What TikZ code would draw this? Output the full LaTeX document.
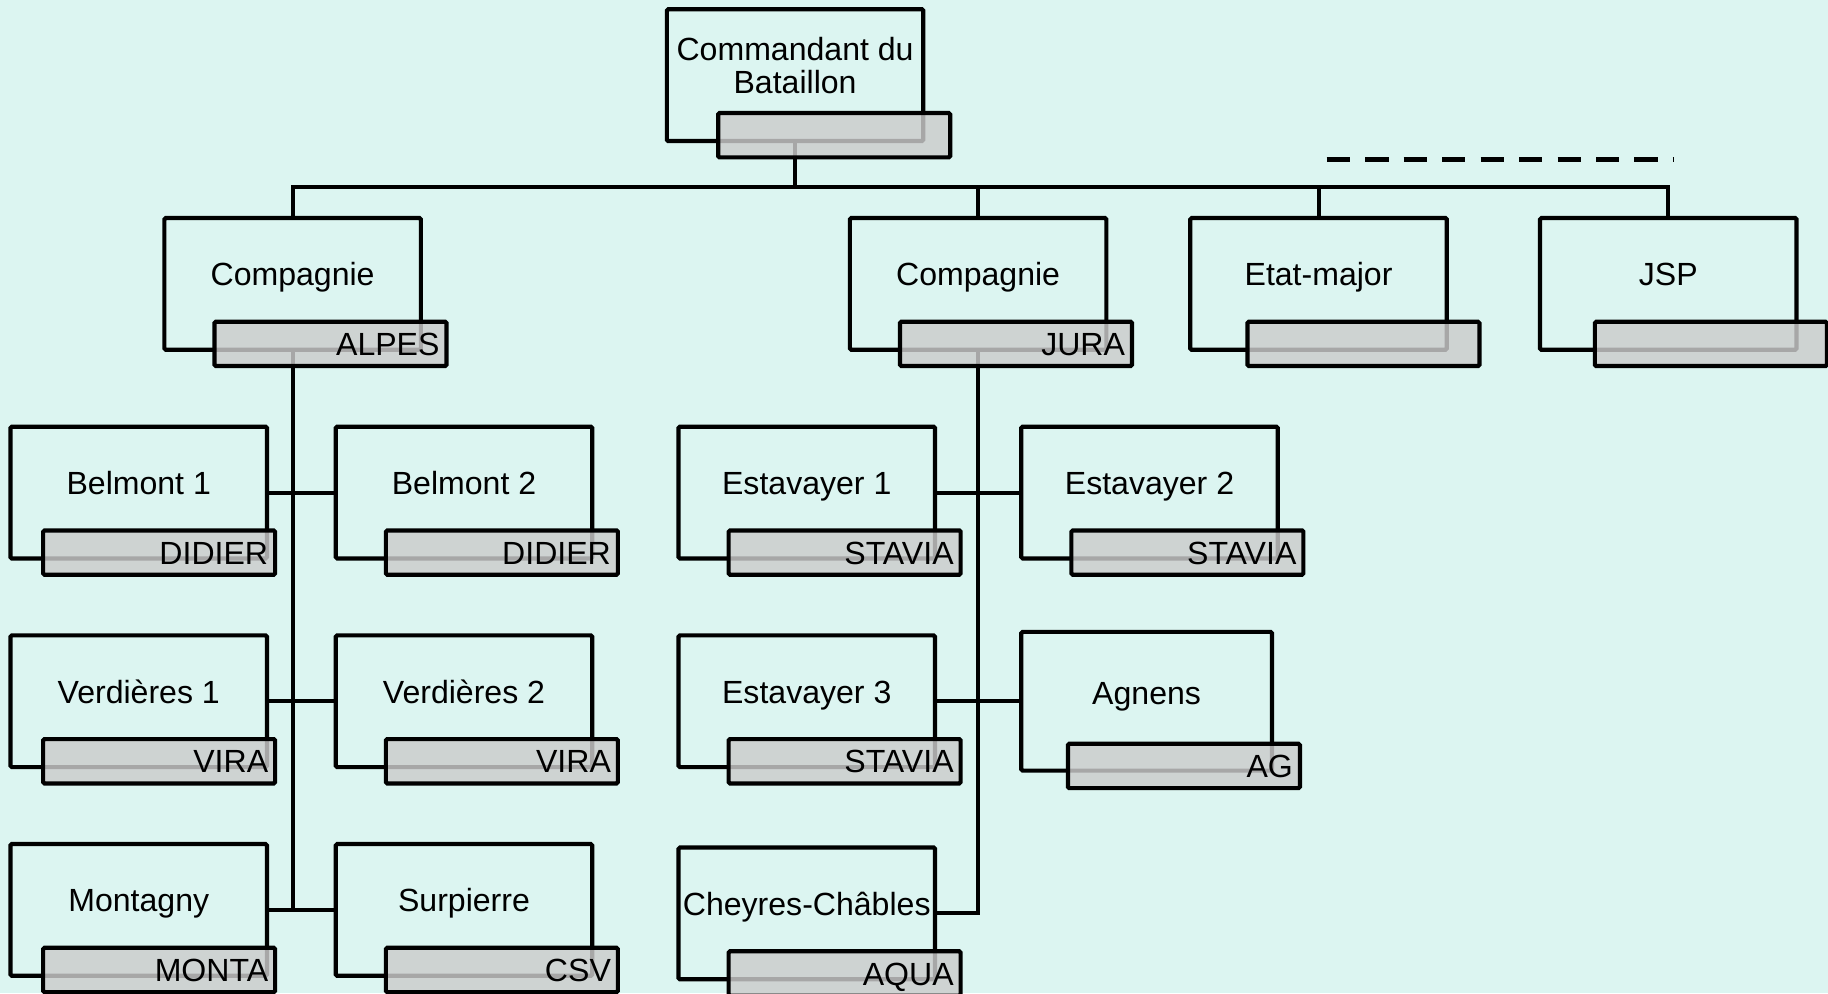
\documentclass[tikz,border=0pt]{standalone}
\usepackage{fontspec}
\setmainfont{Liberation Sans}
\usetikzlibrary{positioning}
\definecolor{mint}{HTML}{DCF5F1}
\definecolor{tagfill}{HTML}{CCCCCC}
\tikzset{
  unitbox/.style={draw, line width=1.8pt, rounded corners=0.6pt, minimum width=110pt, minimum height=56.5pt, inner sep=0pt, outer sep=0pt, anchor=north west},
  unittext/.style={font=\fontsize{13.75}{14}\selectfont, align=center, inner sep=0pt},
  tagbox/.style={draw, line width=1.8pt, rounded corners=0.6pt, fill=tagfill, fill opacity=0.82, text opacity=1, minimum width=99.5pt, minimum height=19pt, text width=93.5pt, text height=10pt, text depth=0pt, inner xsep=3pt, inner ysep=0pt, outer sep=0pt, align=right, font=\fontsize{13.75}{14}\selectfont, anchor=north west},
  link/.style={line width=1.7pt}
}
\newcommand\orgbox[4]{%
  \node[unitbox] (#1) at (#2,#3) {};
  \node[unittext, text height=10pt, text depth=2.9pt] (#1-txt) at ([yshift=2.75pt]#1.center) {#4};}
\newcommand\orgtag[3][21.5pt]{%
  \node[tagbox] (#2-tag) at ([xshift=#1,yshift=-44.5pt]#2.north west) {#3};}

\begin{document}
\begin{tikzpicture}[x=0.5pt, y=-0.5pt]
			%%%%% START %%%%%
			
			\draw[fill=mint, draw=none] (0,0) rectangle (1568,852);
			\useasboundingbox (0,0) rectangle (1568,852);
			
			\node[unitbox] (cmd) at (572,8) {};
			\node[unittext] (cmd-txt) at ([yshift=4.25pt]cmd.center) {Commandant du\\Bataillon};
			
			\orgbox{alpes}{141}{187}{Compagnie}
			\orgbox{jura}{729}{187}{Compagnie}
			\orgbox{etat}{1021}{187}{Etat-major}
			\orgbox{jsp}{1321}{187}{JSP}
			
			\orgbox{bel1}{9}{366}{Belmont 1}
			\orgbox{bel2}{288}{366}{Belmont 2}
			\orgbox{ver1}{9}{545}{Verdières 1}
			\orgbox{ver2}{288}{545}{Verdières 2}
			\orgbox{monta}{9}{724}{Montagny}
			\orgbox{surp}{288}{724}{Surpierre}
			
			\orgbox{est1}{582}{366}{Estavayer 1}
			\orgbox{est2}{876}{366}{Estavayer 2}
			\orgbox{est3}{582}{545}{Estavayer 3}
			\node[unitbox, minimum width=107.5pt, minimum height=59.5pt] (agnens) at (876,542) {};
			\node[unittext, text height=10pt, text depth=2.9pt] (agnens-txt) at ([yshift=2.25pt]agnens.center) {Agnens};
			\orgbox{cheyres}{582}{727}{Cheyres-Châbles}
			
			\coordinate[below=19.5pt of cmd.south] (bus);
			\draw[link] (cmd.south) -- (bus);
			\draw[link] (alpes.north) |- (bus) -| (jsp.north);
			\draw[link] (jura.north) -- (jura.north |- bus);
			\draw[link] (etat.north) -- (etat.north |- bus);
			\draw[line width=2.2pt, dash pattern=on 10pt off 6.5pt] (1138,137) -- (1436,137);
			
			\draw[link] (alpes.south) -- (alpes.south |- monta.east);
			\draw[link] (bel1.east) -- (bel2.west);
			\draw[link] (ver1.east) -- (ver2.west);
			\draw[link] (monta.east) -- (surp.west);
			
			\draw[link] (jura.south) |- (cheyres.east);
			\draw[link] (est1.east) -- (est2.west);
			\draw[link] (est3.east) -- (agnens.west);
			
			\orgtag[22pt]{cmd}{}
			\orgtag{alpes}{ALPES}
			\orgtag{jura}{JURA}
			\orgtag[24.5pt]{etat}{}
			\orgtag[23.5pt]{jsp}{}
			\orgtag[14pt]{bel1}{DIDIER}
			\orgtag{bel2}{DIDIER}
			\orgtag[14pt]{ver1}{VIRA}
			\orgtag{ver2}{VIRA}
			\orgtag[14pt]{monta}{MONTA}
			\orgtag{surp}{CSV}
			\orgtag{est1}{STAVIA}
			\orgtag{est2}{STAVIA}
			\orgtag{est3}{STAVIA}
			\node[tagbox] (agnens-tag) at ([xshift=20pt,yshift=-48pt]agnens.north west) {AG};
			\orgtag{cheyres}{AQUA}
			
			%%%%% END %%%%%
\end{tikzpicture}
\end{document}
